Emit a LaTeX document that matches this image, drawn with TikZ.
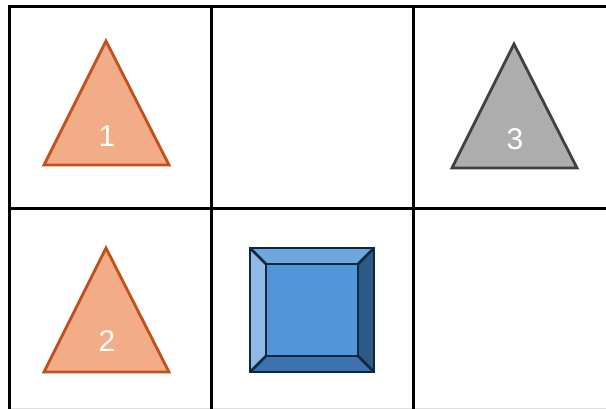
\documentclass[tikz,border=0pt]{standalone}
\usepackage{fontspec}
\setmainfont{Liberation Sans}
\definecolor{orfill}{HTML}{F2AC87}
\definecolor{ordraw}{HTML}{C1501A}
\definecolor{gyfill}{HTML}{ADADAD}
\definecolor{gydraw}{HTML}{404040}
\definecolor{bcent}{HTML}{5096D8}
\definecolor{btop}{HTML}{70A6DE}
\definecolor{bleft}{HTML}{8FBAE8}
\definecolor{bright}{HTML}{2D5987}
\definecolor{bbot}{HTML}{3D72AC}
\definecolor{bline}{HTML}{0B2A3F}
\tikzset{
  gridline/.style={line width=3pt, black},
  otri/.style={fill=orfill, draw=ordraw, line width=2.8pt, line join=miter},
  gtri/.style={fill=gyfill, draw=gydraw, line width=2.8pt, line join=miter},
  lbl/.style={text=white, font=\fontsize{30}{30}\selectfont, inner sep=0pt},
  bev/.style={draw=bline, line width=2.8pt, line join=miter}
}
\begin{document}
\begin{tikzpicture}[x=1pt,y=-1pt]
\useasboundingbox (0,0) rectangle (606,409);
\fill[white] (0,0) rectangle (606,409);
% grid
\draw[gray!25, line width=1pt] (9,408.5) -- (606,408.5);
\draw[gridline] (606,7) -- (9,7) -- (9,409);
\draw[gridline] (211,7) -- (211,409);
\draw[gridline] (413,7) -- (413,409);
\draw[gridline] (9,209) -- (606,209);
% triangle 1
\draw[otri] (106,41) -- (169,165) -- (44,165) -- cycle;
\node[lbl] (t1) at (107,136) {1};
% triangle 2
\draw[otri] (106,248) -- (169,372) -- (44,372) -- cycle;
\node[lbl] (t2) at (107,341) {2};
% triangle 3
\draw[gtri] (514,44) -- (577,168) -- (452,168) -- cycle;
\node[lbl] (t3) at (515,139) {3};
% bevel square
\coordinate (o1) at (250,248);
\coordinate (o2) at (374,248);
\coordinate (o3) at (374,372);
\coordinate (o4) at (250,372);
\coordinate (i1) at (266,264);
\coordinate (i2) at (358,264);
\coordinate (i3) at (358,356);
\coordinate (i4) at (266,356);
\fill[btop] (o1) -- (o2) -- (i2) -- (i1) -- cycle;
\fill[bright] (o2) -- (o3) -- (i3) -- (i2) -- cycle;
\fill[bbot] (o3) -- (o4) -- (i4) -- (i3) -- cycle;
\fill[bleft] (o4) -- (o1) -- (i1) -- (i4) -- cycle;
\fill[bcent] (i1) rectangle (i3);
\draw[bev] (o1) -- (i1) (o2) -- (i2) (o3) -- (i3) (o4) -- (i4);
\draw[bev] (i1) rectangle (i3);
\draw[bev] (o1) rectangle (o3);
\node[inner sep=0pt] (sq) at (312,310) {};
\end{tikzpicture}
\end{document}
